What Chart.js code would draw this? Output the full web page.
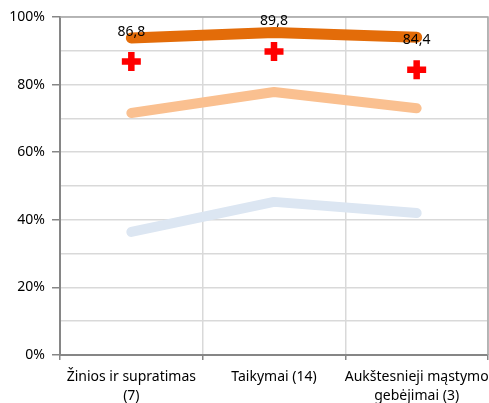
<!DOCTYPE html>
<html>
<head>
<meta charset="utf-8">
<script src="https://cdn.jsdelivr.net/npm/chart.js@4/dist/chart.umd.min.js"></script>
<style>
html,body{margin:0;padding:0;background:#fff;}
#wrap{width:489px;height:403px;}
</style>
</head>
<body>
<div id="wrap"><canvas id="c" width="489" height="403"></canvas></div>
<script>
const categories = [["Žinios ir supratimas","(7)"], "Taikymai (14)", ["Aukštesnieji mąstymo","gebėjimai (3)"]];
const darkOrange = [93.8, 95.4, 94.0];
const lightOrange = [71.6, 77.8, 73.0];
const lightBlue = [36.4, 45.3, 42.0];
const redCross = [86.8, 89.8, 84.4];
const yTicks = [0, 20, 40, 60, 80, 100];

const FONT = "'Noto Sans', sans-serif";

const borderPlugin = {
  id: 'plotBorder',
  beforeDatasetsDraw(chart) {
    const a = chart.chartArea, ctx = chart.ctx;
    ctx.save();
    ctx.strokeStyle = '#a6a6a6';
    ctx.lineWidth = 1.5;
    ctx.beginPath();
    ctx.moveTo(a.left, a.top); ctx.lineTo(a.right, a.top); ctx.lineTo(a.right, a.bottom);
    ctx.stroke();
    ctx.restore();
  },
  afterDatasetsDraw(chart) {
    const ctx = chart.ctx;
    const meta = chart.getDatasetMeta(3);
    ctx.save();
    ctx.font = "14px " + FONT;
    ctx.fillStyle = '#000';
    ctx.textAlign = 'center';
    ctx.textBaseline = 'middle';
    meta.data.forEach((pt, i) => {
      ctx.fillText(redCross[i].toFixed(1).replace('.', ','), pt.x, pt.y - 30);
    });
    ctx.restore();
  }
};

const zeroPad = (s) => {
  s._calculatePadding = function () { this.paddingLeft = 0; this.paddingRight = 0; this.paddingTop = 0; this.paddingBottom = 0; };
  s.getPadding = () => ({left: 0, top: 0, right: 0, bottom: 0});
};

const lineDs = (data, color, w) => ({
  data, borderColor: color, backgroundColor: color, borderWidth: w,
  borderCapStyle: 'round', borderJoinStyle: 'round', pointRadius: 0, tension: 0, fill: false
});

new Chart(document.getElementById('c'), {
  type: 'line',
  data: {
    labels: categories,
    datasets: [
      Object.assign(lineDs(darkOrange, '#E36C09', 11), {order: 1}),
      Object.assign(lineDs(lightOrange, '#FAC090', 10), {order: 2}),
      Object.assign(lineDs(lightBlue, '#DCE6F2', 10), {order: 3}),
      {data: redCross, showLine: false, pointStyle: 'cross', pointRadius: 9.5, pointBorderWidth: 6.5,
       borderColor: '#FF0000', backgroundColor: '#FF0000', pointHoverRadius: 9.5, order: 0}
    ]
  },
  options: {
    responsive: false,
    animation: false,
    events: [],
    layout: {autoPadding: false, padding: {top: 17, right: 1, left: 0, bottom: 0}},
    plugins: {legend: {display: false}, tooltip: {enabled: false}},
    scales: {
      x: {
        offset: true,
        grid: {offset: true, color: '#d9d9d9', lineWidth: 1.5, tickLength: 5, tickColor: '#868686', drawOnChartArea: true},
        border: {color: '#868686', width: 2},
        ticks: {color: '#000', font: {family: FONT, size: 14, lineHeight: 1.4}, padding: 7, maxRotation: 0, autoSkip: false},
        beforeFit: zeroPad,
        afterFit(s) { s.height = 48; s.paddingLeft = 0; s.paddingRight = 0; }
      },
      y: {
        min: 0, max: 100,
        grid: {color: '#d9d9d9', lineWidth: 1.5, tickLength: 8,
               tickColor: (c) => (c.tick && c.tick.value % 20 === 0) ? '#868686' : 'rgba(0,0,0,0)'},
        border: {color: '#868686', width: 2},
        ticks: {stepSize: 10, color: '#000', font: {family: FONT, size: 14}, padding: 7,
                callback: (v) => yTicks.includes(v) ? v + '%' : ''},
        beforeFit: zeroPad,
        afterFit(s) { s.width = 60; s.paddingTop = 0; s.paddingBottom = 0; }
      }
    }
  },
  plugins: [borderPlugin]
});
</script>
</body>
</html>
